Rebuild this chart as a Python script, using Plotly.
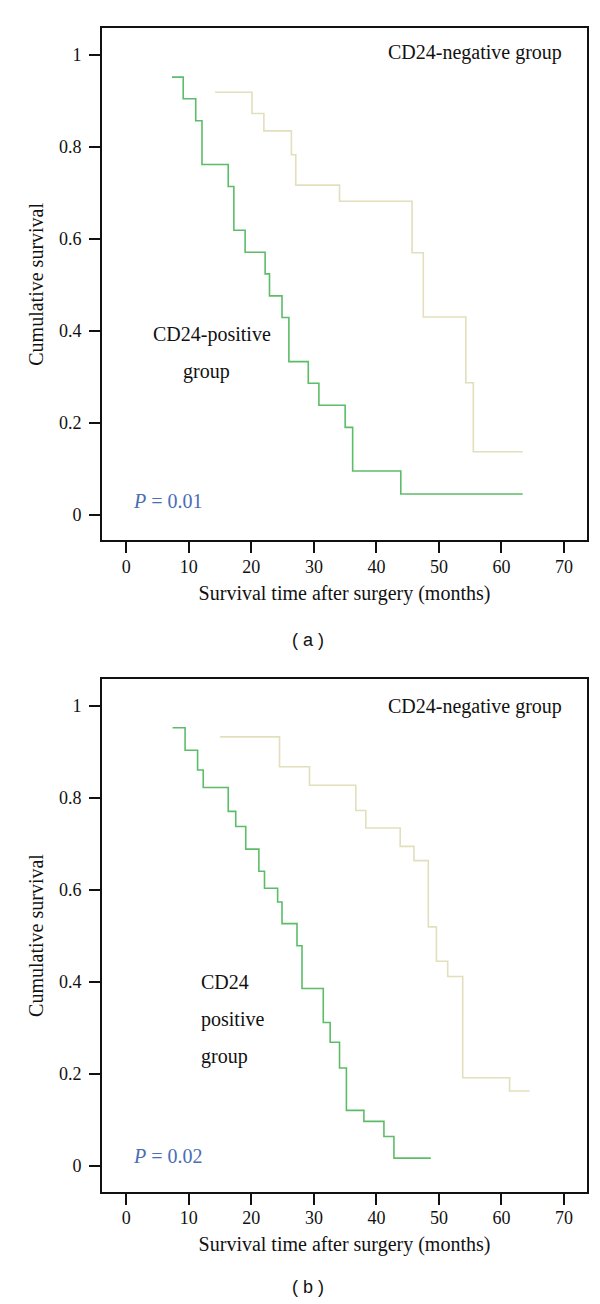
import plotly.graph_objects as go

# ---------------- data ----------------
# Panel (a)
a_pos_time = [7.3, 9.1, 11.1, 12.1, 16.3, 17.2, 19.0, 22.2, 22.9, 24.9, 26.0, 29.1, 30.8, 35.0, 36.2, 43.9, 63.4]
a_pos_surv = [0.952, 0.905, 0.857, 0.762, 0.714, 0.619, 0.571, 0.524, 0.476, 0.429, 0.333, 0.286, 0.238, 0.190, 0.095, 0.045, 0.045]
a_neg_time = [14.2, 20.1, 22.0, 26.4, 27.1, 34.1, 45.7, 47.5, 54.3, 55.5, 63.4]
a_neg_surv = [0.919, 0.873, 0.835, 0.783, 0.717, 0.682, 0.570, 0.430, 0.287, 0.137, 0.137]

# Panel (b)
b_pos_time = [7.4, 9.4, 11.4, 12.3, 16.3, 17.5, 19.1, 21.2, 22.1, 24.2, 24.9, 27.3, 28.1, 31.5, 32.6, 34.1, 35.2, 38.0, 41.2, 42.8, 48.7]
b_pos_surv = [0.953, 0.904, 0.861, 0.823, 0.771, 0.738, 0.689, 0.641, 0.604, 0.574, 0.527, 0.479, 0.386, 0.312, 0.269, 0.213, 0.121, 0.097, 0.064, 0.017, 0.017]
b_neg_time = [15.0, 24.5, 29.3, 36.7, 38.3, 43.8, 46.0, 48.3, 49.6, 51.4, 53.8, 61.3, 64.5]
b_neg_surv = [0.933, 0.868, 0.828, 0.773, 0.735, 0.695, 0.664, 0.520, 0.445, 0.412, 0.192, 0.163, 0.163]

x_ticks = [0, 10, 20, 30, 40, 50, 60, 70]
y_ticks = [0, 0.2, 0.4, 0.6, 0.8, 1]
y_tick_text = ["0", "0.2", "0.4", "0.6", "0.8", "1"]

p_values = ["0.01", "0.02"]
panel_labels = ["( a )", "( b )"]

# ---------------- styling ----------------
GREEN = "#5cbd68"
BEIGE = "#e2dfbc"
BLUE = "#4a6db3"
SERIF = "Liberation Serif, Times New Roman, serif"
W, H = 600, 1304

fig = go.Figure()

def add_curve(t, s, color, xa, ya, name):
    fig.add_trace(go.Scatter(x=t, y=s, mode="lines", line=dict(color=color, width=1.6, shape="hv"),
                             xaxis=xa, yaxis=ya, showlegend=False, name=name, hoverinfo="skip"))

add_curve(a_neg_time, a_neg_surv, BEIGE, "x", "y", "CD24-negative")
add_curve(a_pos_time, a_pos_surv, GREEN, "x", "y", "CD24-positive")
add_curve(b_neg_time, b_neg_surv, BEIGE, "x2", "y2", "CD24-negative")
add_curve(b_pos_time, b_pos_surv, GREEN, "x2", "y2", "CD24-positive")

x_dom = [94 / W, 579 / W]
dom_a = [1 - 532.3 / H, 1 - 20.4 / H]
dom_b = [1 - 1183.6 / H, 1 - 671.4 / H]
x_range = [-3.89, 73.68]
y_range = [-0.0557, 1.058]

def xaxis(anchor):
    return dict(domain=x_dom, range=x_range, anchor=anchor, tickmode="array", tickvals=x_ticks,
                ticks="outside", ticklen=11, tickwidth=1.5, tickcolor="#111",
                showline=True, linecolor="#111", linewidth=1.8, mirror=True,
                showgrid=False, zeroline=False, fixedrange=True, ticklabelstandoff=-2,
                tickfont=dict(family=SERIF, size=18, color="#111"),
                title=dict(text="Survival time after surgery (months)", standoff=10,
                           font=dict(family=SERIF, size=20, color="#111")))

def yaxis(anchor, dom):
    return dict(domain=dom, range=y_range, anchor=anchor, tickmode="array", tickvals=y_ticks,
                ticktext=y_tick_text, ticks="outside", ticklen=11, tickwidth=1.5, tickcolor="#111",
                showline=True, linecolor="#111", linewidth=1.8, mirror=True,
                showgrid=False, zeroline=False, fixedrange=True, ticklabelstandoff=4,
                tickfont=dict(family=SERIF, size=18, color="#111"),
                title=dict(text="Cumulative survival", standoff=10,
                           font=dict(family=SERIF, size=20, color="#111")))

fig.update_layout(
    width=W, height=H, margin=dict(l=0, r=0, t=0, b=0),
    paper_bgcolor="white", plot_bgcolor="white",
    xaxis=xaxis("y"), yaxis=yaxis("x", dom_a),
    xaxis2=xaxis("y2"), yaxis2=yaxis("x2", dom_b),
)

txt = dict(family=SERIF, size=20, color="#111")
ann = []
for xr, yr, yneg in [("x", "y", 1.005), ("x2", "y2", 1.0)]:
    ann.append(dict(xref=xr, yref=yr, x=55.7, y=yneg, text="CD24-negative group", showarrow=False,
                    font=txt, xanchor="center", yanchor="middle"))
# panel a positive labels
ann.append(dict(xref="x", yref="y", x=13.66, y=0.393, text="CD24-positive", showarrow=False, font=txt,
                xanchor="center", yanchor="middle"))
ann.append(dict(xref="x", yref="y", x=12.87, y=0.312, text="group", showarrow=False, font=txt,
                xanchor="center", yanchor="middle"))
# panel b positive labels
for yy, t in [(0.400, "CD24"), (0.319, "positive"), (0.239, "group")]:
    ann.append(dict(xref="x2", yref="y2", x=11.7, y=yy, text=t, showarrow=False, font=txt,
                    xanchor="left", yanchor="middle"))
# p-values
for xr, yr, yy, p in [("x", "y", 0.03, p_values[0]), ("x2", "y2", 0.022, p_values[1])]:
    ann.append(dict(xref=xr, yref=yr, x=0.8, y=yy, text="<i>P</i> = " + p, showarrow=False,
                    font=dict(family=SERIF, size=20, color=BLUE), xanchor="left", yanchor="middle"))
# panel labels
for yy, t in [(1 - 632 / H, panel_labels[0]), (1 - 1279 / H, panel_labels[1])]:
    ann.append(dict(xref="paper", yref="paper", x=0.5, y=yy, text=t, showarrow=False,
                    font=dict(family="Liberation Sans, Arial, sans-serif", size=18, color="#111"),
                    xanchor="center", yanchor="middle"))
fig.update_layout(annotations=ann)

fig.write_html("out.html")
